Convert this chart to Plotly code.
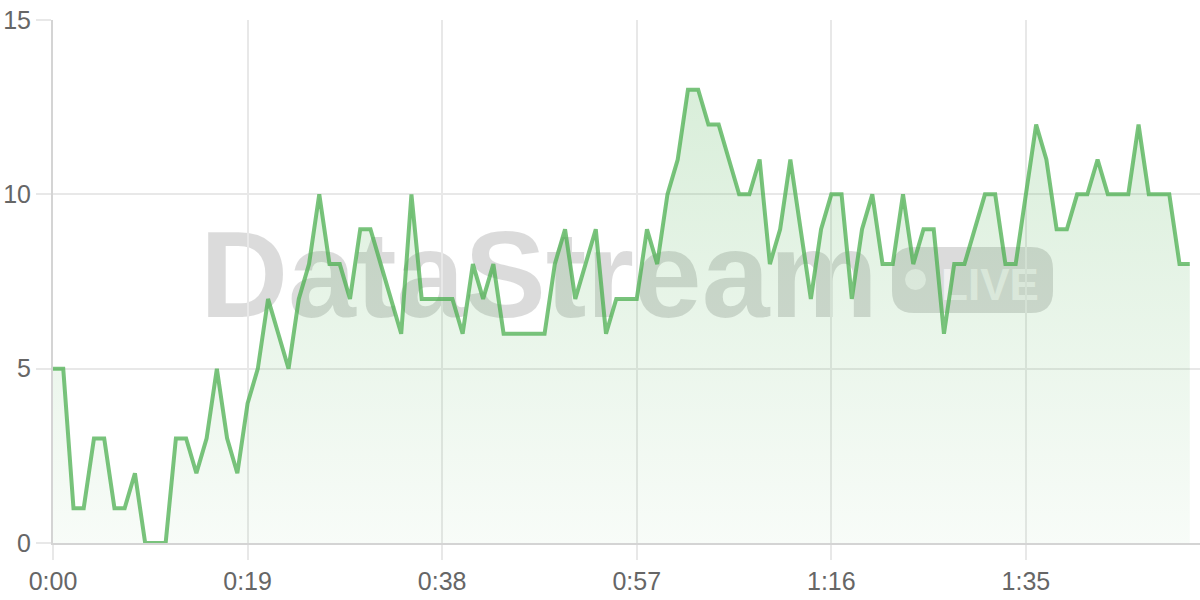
import plotly.graph_objects as go

#----Data----
seconds = list(range(112))
values = [
    5, 5, 1, 1, 3, 3, 1, 1, 2, 0, 0, 0, 3, 3, 2, 3, 5, 3, 2, 4,
    5, 7, 6, 5, 7, 8, 10, 8, 8, 7, 9, 9, 8, 7, 6, 10, 7, 7, 7, 7,
    6, 8, 7, 8, 6, 6, 6, 6, 6, 8, 9, 7, 8, 9, 6, 7, 7, 7, 9, 8,
    10, 11, 13, 13, 12, 12, 11, 10, 10, 11, 8, 9, 11, 9, 7, 9, 10, 10, 7, 9,
    10, 8, 8, 10, 8, 9, 9, 6, 8, 8, 9, 10, 10, 8, 8, 10, 12, 11, 9, 9,
    10, 10, 11, 10, 10, 10, 12, 10, 10, 10, 8, 8,
]
x_ticks = [0, 19, 38, 57, 76, 95]
x_labels = ["0:00", "0:19", "0:38", "0:57", "1:16", "1:35"]
y_ticks = [0, 5, 10, 15]

#----Geometry helpers (watermark placed in pixels)----
W, H = 1200, 600
L, R, T, B = 53, 0, 20, 57
PW, PH = W - L - R, H - T - B


def px(x):
    return (x - L) / PW


def py(y):
    return (H - B - y) / PH


def rounded_rect(x0, y0, x1, y1, r):
    """Chemin SVG (coordonnees paper) d'un rectangle arrondi donne en pixels."""
    pts = [
        f"M {px(x0 + r)},{py(y0)}",
        f"L {px(x1 - r)},{py(y0)}",
        f"Q {px(x1)},{py(y0)} {px(x1)},{py(y0 + r)}",
        f"L {px(x1)},{py(y1 - r)}",
        f"Q {px(x1)},{py(y1)} {px(x1 - r)},{py(y1)}",
        f"L {px(x0 + r)},{py(y1)}",
        f"Q {px(x0)},{py(y1)} {px(x0)},{py(y1 - r)}",
        f"L {px(x0)},{py(y0 + r)}",
        f"Q {px(x0)},{py(y0)} {px(x0 + r)},{py(y0)}",
        "Z",
    ]
    return " ".join(pts)


#----Figure----
fig = go.Figure()
fig.add_trace(go.Scatter(
    x=seconds, y=values, mode="lines",
    line=dict(color="rgba(76,175,80,0.75)", width=4),
    fill="tozeroy",
    fillgradient=dict(
        type="vertical", start=0, stop=15,
        colorscale=[[0, "rgba(76,175,80,0.04)"], [1, "rgba(76,175,80,0.24)"]],
    ),
    hoverinfo="skip",
))

wm_grey = "rgba(0,0,0,0.14)"
shapes = [
    # texte "DataStream"
    dict(type="rect", xref="paper", yref="paper", layer="below",
         x0=px(199), x1=px(879), y0=py(320), y1=py(205),
         line=dict(width=0), fillcolor="rgba(0,0,0,0)",
         label=dict(text="DataStream", textposition="middle center",
                    font=dict(family="Liberation Sans", size=122, color=wm_grey, weight="bold"))),
    # pastille LIVE
    dict(type="path", xref="paper", yref="paper", layer="below",
         path=rounded_rect(892, 247, 1053, 313, 22),
         line=dict(width=0), fillcolor=wm_grey),
    dict(type="circle", xref="paper", yref="paper", layer="below",
         x0=px(905), x1=px(926), y0=py(290), y1=py(269),
         line=dict(width=0), fillcolor="rgba(255,255,255,0.6)"),
    dict(type="rect", xref="paper", yref="paper", layer="below",
         x0=px(940), x1=px(1040), y0=py(300), y1=py(260),
         line=dict(width=0), fillcolor="rgba(0,0,0,0)",
         label=dict(text="LIVE", textposition="middle center",
                    font=dict(family="Liberation Sans", size=44, color="rgba(255,255,255,0.6)", weight="bold"))),
]

axis_font = dict(family="Liberation Sans", size=25, color="#666666")
fig.update_layout(
    width=W, height=H,
    margin=dict(l=L, r=R, t=T, b=B),
    paper_bgcolor="white",
    plot_bgcolor="rgba(0,0,0,0)",
    showlegend=False,
    shapes=shapes,
    xaxis=dict(
        range=[0, 112], tickvals=x_ticks, ticktext=x_labels,
        showgrid=True, gridcolor="#e8e8e8", gridwidth=1.5,
        ticks="outside", ticklen=15, tickcolor="#e8e8e8", tickwidth=1.5,
        showline=True, linecolor="#d4d4d4", linewidth=2,
        zeroline=False, tickfont=axis_font, fixedrange=True,
        automargin=False,
    ),
    yaxis=dict(
        range=[0, 15], tickvals=y_ticks,
        showgrid=True, gridcolor="#e8e8e8", gridwidth=1.5,
        ticks="outside", ticklen=15, tickcolor="#e8e8e8", tickwidth=1.5,
        showline=True, linecolor="#d4d4d4", linewidth=2,
        zeroline=False, tickfont=axis_font, fixedrange=True,
        automargin=False,
    ),
)

# la page a une marge de 8px par defaut : on la retire
fig.write_html("out.html", config={"displayModeBar": False},
               post_script="document.body.style.margin='0';")
